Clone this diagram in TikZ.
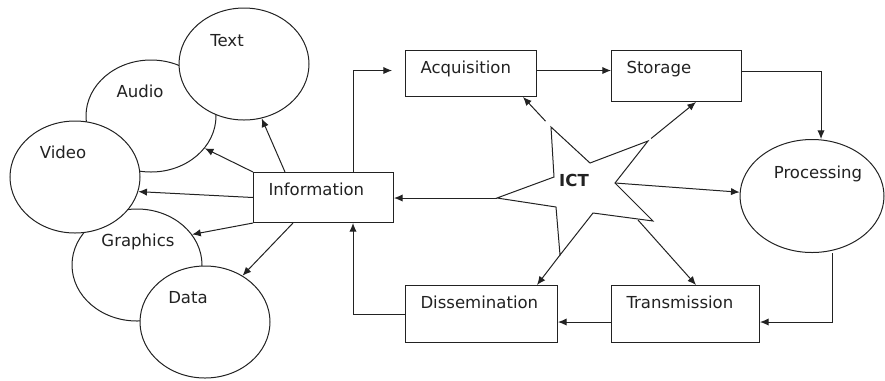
\documentclass[tikz,border=0pt]{standalone}
\usepackage{fontspec}
\setmainfont{DejaVu Sans}
\usetikzlibrary{shapes.geometric,arrows.meta,calc}
\definecolor{diagink}{HTML}{222222}

\begin{document}
\begin{tikzpicture}[x=0.75pt, y=-0.75pt, >={Latex[length=6.5pt,width=5.5pt]},
                    every node/.style={text=diagink, font=\fontsize{12.4}{14}\selectfont},
                    blob/.style={ellipse, draw=diagink, fill=white, line width=0.75pt,
                                 inner sep=0pt, minimum width=97.5pt, minimum height=84pt},
                    tag/.style={anchor=base},
                    stage/.style={draw=diagink, line width=0.75pt, anchor=north west, align=left,
                                  inner xsep=11.25pt, inner ysep=8pt, text height=9pt},
                    link/.style={draw=diagink, line width=0.75pt, ->}]

  \useasboundingbox (0,0) rectangle (885,380);

  %% media ellipses, later ones cover earlier ones
  \node[blob] (audio)    at (151,116) {};
  \node[blob] (graphics) at (137,265) {};
  \node[blob] (text)     at (244,64)  {};
  \node[blob] (video)    at (75,177)  {};
  \node[blob] (data)     at (205,322) {};

  \node[tag] (audiolbl)    at (140,97)  {Audio};
  \node[tag] (graphicslbl) at (138,246) {Graphics};
  \node[tag] (textlbl)     at (227,46)  {Text};
  \node[tag] (videolbl)    at (63,158)  {Video};
  \node[tag] (datalbl)     at (188,303) {Data};

  %% process boxes
  \node[stage, text width=82.5pt, text depth=12.5pt]  (info)  at (253,172) {Information};
  \node[stage, text width=75.75pt, text depth=9.5pt]  (acq)   at (405,50)  {Acquisition};
  \node[stage, text width=75pt, text depth=13.25pt]   (stor)  at (611,50)  {Storage};
  \node[stage, text width=88.5pt, text depth=17.75pt] (trans) at (611,285) {Transmission};
  \node[stage, text width=91.5pt, text depth=17.75pt] (diss)  at (405,285) {Dissemination};

  \node[ellipse, draw=diagink, line width=0.75pt, inner sep=0pt,
        minimum width=108pt, minimum height=84.75pt] (proc) at (812,196) {};
  \node[tag] (proclbl) at (818,178) {Processing};

  %% the ICT star
  \coordinate (ictnw) at (551,127);
  \coordinate (ictne) at (648,141);
  \coordinate (ictin) at (615,183);
  \coordinate (ictse) at (638,220);
  \coordinate (icts)  at (560,255);
  \coordinate (ictw)  at (497,198);
  \draw[diagink, line width=0.75pt, fill=white]
    (ictnw) -- (590,163) -- (ictne) -- (ictin) -- (653,221) -- (593,213)
    -- (icts) -- (556,207) -- (ictw) -- (554,177) -- cycle;
  \node[tag, font=\fontsize{12.4}{14}\selectfont\bfseries] (ict) at (574,186) {ICT};

  %% information to the media
  \draw[link] ($(info.north west)+(32,0)$) -- (text.288);
  \draw[link] (info.north west) -- (audio.329);
  \draw[link] (info.west) -- (video.347);
  \draw[link] (info.south west) -- (graphics.29);
  \draw[link] ($(info.south west)+(40,0)$) -- (data.51);

  %% the cycle
  \coordinate (infoup)   at ($(info.north west)+(100,0)$);
  \coordinate (infodown) at ($(info.south west)+(100,0)$);
  \coordinate (acqout)   at ($(acq.east)+(0,-3)$);
  \coordinate (storout)  at ($(stor.east)+(0,-5)$);
  \coordinate (procin)   at ($(proc.north)+(9,0)$);
  \coordinate (procout)  at ($(proc.south)+(20,0)$);
  \coordinate (transin)  at ($(trans.east)+(0,8)$);
  \coordinate (transout) at ($(trans.west)+(0,8)$);
  \draw[link, shorten >=9.75pt] (infoup) |- (acqout -| acq.west);
  \draw[link] (acqout) -- (acqout -| stor.west);
  \draw[link] (storout) -| (procin);
  \draw[link] (procout) |- (transin);
  \draw[link] (transout) -- (transout -| diss.east);
  \draw[link] (diss.west) -| (infodown);

  %% ICT to every stage
  \draw[link, shorten <=6pt] (ictnw) -- ($(acq.south east)+(-14,0)$);
  \draw[link, shorten <=3pt] (ictne) -- ($(stor.south west)+(85,0)$);
  \draw[link] (ictin) -- (proc.177);
  \draw[link] (ictw) -- (ictw -| info.east);
  \draw[link] (ictse) -- ($(trans.north west)+(85,0)$);
  \draw[link] (icts) -- ($(diss.north west)+(132,0)$);

\end{tikzpicture}
\end{document}
